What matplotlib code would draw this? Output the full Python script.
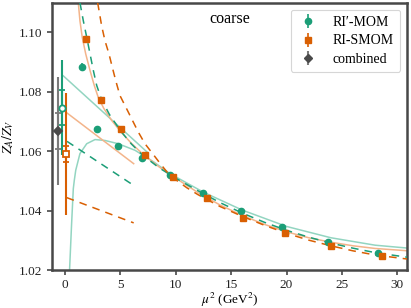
import matplotlib
matplotlib.use("Agg")
import matplotlib.pyplot as plt

# ---- data ----
mom_mu2 = [1.53, 2.90, 4.80, 6.98, 9.48, 12.48, 15.86, 19.60, 23.70, 28.30]
mom_z = [1.0884, 1.0674, 1.0619, 1.0579, 1.0520, 1.0461, 1.0399, 1.0345, 1.0296, 1.0258]
mom_err = [0.0012, 0.0008, 0.0006, 0.0005, 0.0004, 0.0004, 0.0004, 0.0003, 0.0003, 0.0003]

smom_mu2 = [1.87, 3.25, 5.08, 7.22, 9.78, 12.79, 16.10, 19.86, 24.00, 28.60]
smom_z = [1.0978, 1.0774, 1.0674, 1.0589, 1.0514, 1.0442, 1.0378, 1.0325, 1.0282, 1.0250]
smom_err = [0.0008, 0.0006, 0.0005, 0.0004, 0.0004, 0.0004, 0.0003, 0.0003, 0.0003, 0.0003]

# extrapolated values at mu^2 = 0 (x offsets only for display)
ext_x = [-0.24, 0.09, -0.66]
ext_z = [1.0747, 1.0591, 1.0668]
ext_stat = [0.0058, 0.0027, 0.0060]
ext_tot = [0.0160, 0.0204, 0.0182]

# fit curves
curveA_x = [1.35, 1.65, 1.96, 2.26, 2.56, 2.86, 3.3, 4.0, 5.0, 6.0, 7.0, 8.5, 10, 12, 14, 16, 18, 20, 22, 24, 26, 28, 31]
curveA_z = [1.1100, 1.1040, 1.0984, 1.0928, 1.0872, 1.0822, 1.0775, 1.0725, 1.0670, 1.0625, 1.0588, 1.0545, 1.0510,
            1.0468, 1.0428, 1.0393, 1.0362, 1.0335, 1.0312, 1.0292, 1.0275, 1.0260, 1.0244]

curveB_x = [2.95, 3.31, 3.61, 3.97, 4.27, 4.58, 4.96, 5.57, 6.62, 7.22, 8.73, 9.32, 10, 11, 12, 13, 14, 16, 18, 20, 22, 24, 26, 28, 31]
curveB_z = [1.1100, 1.1022, 1.0972, 1.0928, 1.0883, 1.0838, 1.0788, 1.0743, 1.0665, 1.0626, 1.0553, 1.0526, 1.0505,
            1.0478, 1.0455, 1.0435, 1.0415, 1.0382, 1.0352, 1.0325, 1.0302, 1.0283, 1.0266, 1.0252, 1.0238]

curveC_x = [1.2, 1.35, 1.56, 1.87, 2.26, 2.65, 3.0, 3.5, 4.2, 5.0, 6.0, 7.0, 8.5, 10, 12, 14, 16, 18, 20, 22, 24, 26, 28, 31]
curveC_z = [1.1100, 1.1039, 1.0983, 1.0928, 1.0872, 1.0821, 1.0782, 1.0745, 1.0705, 1.0668, 1.0627, 1.0592, 1.0548,
            1.0510, 1.0462, 1.0420, 1.0385, 1.0355, 1.0330, 1.0310, 1.0295, 1.0283, 1.0274, 1.0266]

curveD_x = [0.41, 0.59, 0.75, 0.84, 0.97, 1.35, 1.96, 2.71, 3.61, 4.81, 6.32, 8.0, 9.5, 12.5, 16, 20, 24, 28, 31]
curveD_z = [1.0200, 1.0352, 1.0475, 1.0503, 1.0537, 1.0593, 1.0626, 1.0640, 1.0637, 1.0626, 1.0604, 1.0565, 1.0525,
            1.0463, 1.0403, 1.0348, 1.0310, 1.0285, 1.0275]

lineE_x = [-0.15, 7.5]
lineE_z = [1.0854, 1.0595]
lineF_x = [-0.30, 6.2]
lineF_z = [1.0743, 1.0559]
lineG_x = [0.18, 6.32]
lineG_z = [1.0634, 1.0483]
lineH_x = [0.15, 6.2]
lineH_z = [1.0445, 1.0360]

legend_labels = ['RI\u2032-MOM', 'RI-SMOM', 'combined']

# ---- style ----
plt.rcParams['font.family'] = ['Liberation Serif', 'DejaVu Serif']
plt.rcParams['mathtext.fontset'] = 'stix'
plt.rcParams['font.size'] = 10

green = '#1b9e77'
orange = '#d95f02'
gray = '#4a4a4a'
lgreen = '#93d5c1'
lorange = '#f3b48a'
spc = '#484848'

fig = plt.figure(figsize=(4.11, 3.08), dpi=100)
ax = fig.add_axes([0.1258, 0.1218, 0.991 - 0.1258, 0.9912 - 0.1218])

lw = 1.1
ax.plot(curveD_x, curveD_z, color=lgreen, lw=lw, zorder=2)
ax.plot(lineE_x, lineE_z, color=lgreen, lw=lw, zorder=2)
ax.plot(curveC_x, curveC_z, color=lorange, lw=lw, zorder=2)
ax.plot(lineF_x, lineF_z, color=lorange, lw=lw, zorder=2)
ax.plot(curveA_x, curveA_z, color=green, lw=lw, ls=(0, (5, 4)), zorder=3)
ax.plot(lineG_x, lineG_z, color=green, lw=lw, ls=(0, (5, 4)), zorder=3)
ax.plot(curveB_x, curveB_z, color=orange, lw=lw, ls=(0, (5, 4)), zorder=3)
ax.plot(lineH_x, lineH_z, color=orange, lw=lw, ls=(0, (5, 4)), zorder=3)

h1 = ax.errorbar(mom_mu2, mom_z, yerr=mom_err, fmt='o', color=green, ms=4.5, elinewidth=1.2, zorder=5,
                 label=legend_labels[0])
h2 = ax.errorbar(smom_mu2, smom_z, yerr=smom_err, fmt='s', color=orange, ms=5, elinewidth=1.2, zorder=5,
                 label=legend_labels[1])

ext_colors = [green, orange, gray]
ext_markers = ['o', 's', 'D']
ext_faces = ['white', 'white', gray]
ext_line_colors = [green, orange, '#7a7a7a']
for i in range(3):
    ax.errorbar([ext_x[i]], [ext_z[i]], yerr=[ext_tot[i]], fmt='none', ecolor=ext_line_colors[i],
                elinewidth=1.5, zorder=4)
    ax.errorbar([ext_x[i]], [ext_z[i]], yerr=[ext_stat[i]], fmt=ext_markers[i], color=ext_colors[i],
                mfc=ext_faces[i], mec=ext_colors[i], mew=1.3, ms=4.5, ecolor=ext_line_colors[i],
                elinewidth=1.5, capsize=2.5, capthick=1.0, zorder=6)

h3 = ax.errorbar([], [], yerr=[], fmt='D', color=gray, ms=4.5, ecolor='#7a7a7a', elinewidth=1.5,
                 label=legend_labels[2])

ax.set_xlim(-1.2, 30.9)
ax.set_ylim(1.02, 1.11)
ax.set_xticks([0, 5, 10, 15, 20, 25, 30])
ax.set_yticks([1.02, 1.04, 1.06, 1.08, 1.10])
ax.set_yticklabels(['1.02', '1.04', '1.06', '1.08', '1.10'])
for s in ax.spines.values():
    s.set_linewidth(1.8)
    s.set_color(spc)
ax.tick_params(direction='out', length=3.5, width=1.2, color=spc, labelcolor='#222222', labelsize=9.5)
ax.tick_params(axis='x', pad=2.5)
ax.set_xlabel(r'$\mu^2$ (GeV$^2$)', labelpad=0, fontsize=9.5)
ax.set_ylabel(r'$Z_A/Z_V$', labelpad=2)

ax.text(0.5, 0.94, 'coarse', transform=ax.transAxes, ha='center', va='center', fontsize=11.5)

leg = ax.legend(handles=[h1, h2, h3], loc='upper right', frameon=True, fancybox=True,
                borderaxespad=0.5, handlelength=1.6, handletextpad=1.0, borderpad=0.45,
                labelspacing=0.4, fontsize=10)
leg.get_frame().set_edgecolor('#cccccc')
leg.get_frame().set_linewidth(0.8)

fig.savefig('out.png', dpi=100)
